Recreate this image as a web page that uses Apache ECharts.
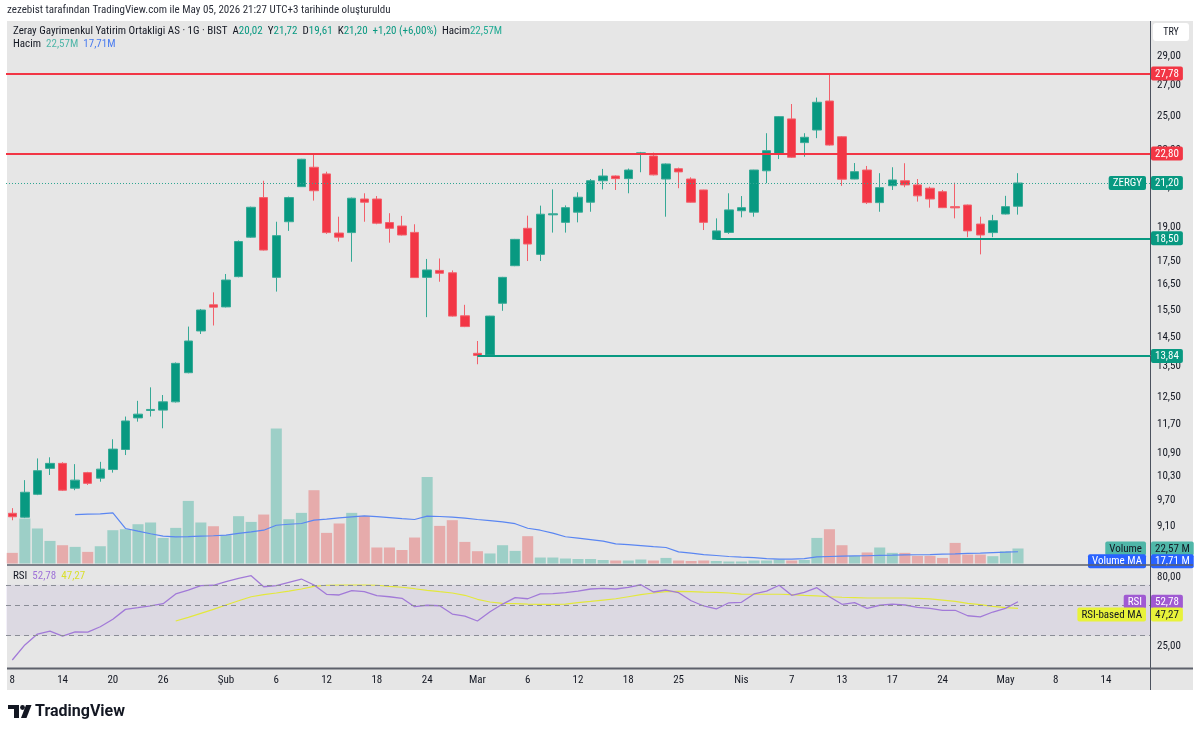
<!DOCTYPE html>
<html><head><meta charset="utf-8">
<script src="https://cdn.jsdelivr.net/npm/echarts@6/dist/echarts.min.js"></script>
<style>html,body{margin:0;padding:0;background:#fff;}#c{width:1200px;height:734px;}</style>
</head><body><div id="c"></div>
<script>
// ---------- DATA ----------
const dates = ['2026-01-08','2026-01-09','2026-01-12','2026-01-13','2026-01-14','2026-01-15','2026-01-16','2026-01-19','2026-01-20','2026-01-21','2026-01-22','2026-01-23','2026-01-26','2026-01-27','2026-01-28','2026-01-29','2026-01-30',
'2026-02-02','2026-02-03','2026-02-04','2026-02-05','2026-02-06','2026-02-09','2026-02-10','2026-02-11','2026-02-12','2026-02-13','2026-02-16','2026-02-17','2026-02-18','2026-02-19','2026-02-20','2026-02-23','2026-02-24','2026-02-25','2026-02-26','2026-02-27',
'2026-03-02','2026-03-03','2026-03-04','2026-03-05','2026-03-06','2026-03-09','2026-03-10','2026-03-11','2026-03-12','2026-03-13','2026-03-16','2026-03-17','2026-03-18','2026-03-19','2026-03-23','2026-03-24','2026-03-25','2026-03-26','2026-03-27','2026-03-30','2026-03-31',
'2026-04-01','2026-04-02','2026-04-03','2026-04-06','2026-04-07','2026-04-08','2026-04-09','2026-04-10','2026-04-13','2026-04-14','2026-04-15','2026-04-16','2026-04-17','2026-04-20','2026-04-21','2026-04-22','2026-04-24','2026-04-27','2026-04-28','2026-04-29','2026-04-30',
'2026-05-04','2026-05-05',
'2026-05-06','2026-05-07','2026-05-08','2026-05-11','2026-05-12','2026-05-13','2026-05-14','2026-05-15','2026-05-18','2026-05-19'];

const opens = [9.39,9.30,9.84,10.49,10.62,9.99,10.38,10.24,10.46,10.99,
11.88,12.10,12.11,12.36,13.28,14.72,15.70,15.62,16.83,18.55,
20.45,16.80,19.27,21.01,22.04,21.68,18.74,18.76,20.38,20.38,
19.23,19.07,18.77,16.80,17.09,16.99,15.28,13.93,13.87,15.76,
17.29,18.96,17.78,19.60,19.24,19.73,20.22,21.32,21.57,21.43,
22.78,22.66,21.41,21.96,21.41,20.84,18.45,18.77,19.80,19.73,
21.85,22.76,24.83,23.42,24.16,25.95,23.76,21.41,21.89,20.20,
21.06,21.32,21.10,20.93,20.75,20.00,20.08,19.16,18.76,19.64,
20.02];
const highs = [9.51,10.19,10.75,10.78,10.65,10.60,10.40,10.66,11.27,11.92,
12.39,12.81,12.57,13.62,14.88,15.54,16.19,16.94,18.40,20.00,
21.32,19.27,20.50,22.50,22.81,21.80,19.51,20.45,20.67,20.53,
19.68,19.55,19.15,17.58,17.60,17.09,15.70,14.36,15.28,16.82,
18.47,19.56,20.05,20.87,20.06,20.72,21.41,21.95,21.60,21.97,
22.89,22.85,22.25,22.02,21.50,20.85,19.43,20.67,20.53,21.90,
23.97,25.00,25.76,23.97,26.17,27.78,23.80,22.27,22.11,21.72,
22.04,22.26,21.41,21.01,20.84,21.22,20.10,19.51,19.60,20.54,
21.72];
const lows = [9.23,9.28,9.82,10.32,9.92,9.94,10.07,10.15,10.38,10.84,
11.77,11.92,11.58,12.34,13.26,14.61,14.92,15.60,16.80,18.52,
17.95,16.22,18.84,21.00,20.30,18.70,18.35,17.46,19.27,19.15,
18.30,18.63,16.78,15.23,16.62,15.25,14.86,13.56,13.84,15.47,
17.27,17.49,17.49,18.76,18.76,19.24,19.75,20.87,20.84,20.67,
21.77,21.60,19.51,20.93,20.20,18.88,18.43,18.70,19.48,19.51,
21.19,22.49,22.55,22.62,23.68,23.25,21.05,21.40,20.13,19.75,
20.84,20.98,20.25,19.95,19.93,19.43,18.55,17.78,18.55,19.62,
19.61];
const closes = [9.31,9.89,10.43,10.62,9.94,10.19,10.11,10.47,11.00,11.79,
11.99,12.13,12.36,13.59,14.36,15.50,15.61,16.69,18.35,19.97,
17.97,18.62,20.45,22.48,20.80,18.76,18.55,20.42,20.22,19.20,
18.96,18.65,16.79,17.11,16.97,15.27,14.88,13.86,15.27,16.80,
18.45,18.24,19.63,19.65,19.95,20.47,21.32,21.57,21.43,21.89,
22.84,21.63,22.22,21.79,20.22,19.24,18.84,19.84,19.95,21.89,
22.96,24.97,22.59,23.73,25.87,23.28,21.40,21.80,20.20,20.96,
21.36,21.10,20.54,20.38,19.95,19.94,18.84,18.65,19.32,20.00,
21.20];

// volume in millions
const volumes = [16.0,67.7,52.7,34.0,27.5,25.0,17.5,26.0,50.1,51.6,
59.1,61.7,38.5,53.6,94.2,61.7,56.1,42.6,71.2,62.6,
73.7,203.2,66.7,76.2,110.3,46.1,60.2,76.2,71.6,24.1,
24.1,20.3,39.1,130.3,56.6,65.2,32.5,18.5,15.1,27.5,
19.0,41.1,9.0,9.0,7.5,6.8,6.8,5.3,4.5,4.5,
6.0,4.5,8.4,4.5,3.8,4.5,3.8,3.0,3.0,4.5,
4.5,6.0,4.5,5.3,38.5,51.6,27.5,11.4,16.6,24.1,
16.0,16.0,11.4,11.4,8.4,31.0,13.5,13.5,11.0,18.5,
22.57];
const volumeMA = [null,null,null,null,null,73.7,74.2,74.7,76.2,52.7,
48.6,44.8,41.1,40.0,40.3,41.1,41.8,42.6,45.2,47.6,
50.1,57.6,59.1,60.2,65.2,66.7,68.6,70.1,71.6,70.4,
68.9,67.4,66.2,71.2,70.7,69.7,68.2,66.2,64.4,62.6,
59.9,53.1,50.1,45.6,40.3,38.1,35.8,33.6,29.5,28.3,
26.8,25.3,24.1,17.5,15.5,13.5,12.0,10.5,9.5,8.7,
7.2,6.5,6.5,7.2,9.9,10.5,11.0,11.4,11.7,12.2,
12.5,12.9,13.2,13.5,14.0,14.4,15.1,15.5,16.3,17.0,
17.71];
const rsi = [20.0,25.7,30.8,32.4,29.8,31.9,31.8,34.8,39.4,46.5,
47.8,49.2,51.1,60.1,64.2,69.0,69.5,73.7,78.0,81.5,
67.8,69.0,73.0,77.1,69.8,59.8,59.1,63.5,62.4,58.4,
57.4,55.9,48.6,49.8,49.4,43.0,41.6,38.3,44.7,50.8,
56.5,55.5,60.1,60.4,61.4,63.1,65.3,66.0,65.3,67.1,
70.1,62.1,64.2,61.4,53.7,49.2,46.8,51.9,52.3,60.1,
63.1,69.5,58.8,61.7,66.7,57.4,50.6,52.0,47.3,49.8,
50.8,50.0,48.1,47.3,45.8,45.8,41.8,41.1,44.5,47.3,
52.78];
const rsiMA = [null,null,null,null,null,null,null,null,null,null,null,null,null,
38.3,40.7,43.5,46.5,50.0,53.7,57.4,
59.4,61.1,63.1,65.3,68.3,69.5,69.8,69.8,69.8,69.5,
68.2,67.2,65.6,63.9,62.4,61.1,58.8,55.0,52.6,51.4,
51.1,50.8,50.6,50.6,50.8,52.0,53.1,54.3,55.5,57.4,
59.4,61.1,62.4,62.8,62.4,62.0,61.7,61.1,60.0,59.8,
59.8,59.8,59.4,58.8,58.3,57.4,56.9,56.6,56.2,56.2,
56.2,56.2,55.9,55.3,54.3,53.1,51.4,50.3,48.9,47.8,
47.27];

const xTickDates = ['2026-01-08','2026-01-14','2026-01-20','2026-01-26','2026-02-02','2026-02-06','2026-02-12','2026-02-18','2026-02-24','2026-03-02','2026-03-06','2026-03-12','2026-03-18','2026-03-25','2026-04-01','2026-04-07','2026-04-13','2026-04-17','2026-04-24','2026-05-04','2026-05-08','2026-05-14'];
const xTickTexts = ['8','14','20','26','Şub','6','12','18','24','Mar','6','12','18','25','Nis','7','13','17','24','May','8','14'];
const priceTicks = [29,27,25,23,21,19,17.5,16.5,15.5,14.5,13.5,12.5,11.7,10.9,10.3,9.7,9.1];
const rsiTicks = [80,25];
const rsiBands = [70,50,30];
const resistanceLevels = [27.78,22.80];
const supportLevels = [18.50,13.84];
const supportStarts = ['2026-03-30','2026-03-02'];
const lastPrice = 21.20;
const lastVolume = 22.57, lastVolumeMA = 17.71, lastRsi = 52.78, lastRsiMA = 47.27;

// ---------- STYLE ----------
const FONT = "'Liberation Sans Narrow','Arial Narrow','Roboto Condensed','DejaVu Sans Condensed',Roboto,sans-serif";
const UP = '#089981', DOWN = '#f23645', TXT = '#131722';
const CLEAR = 'rgba(0,0,0,0)';
const fmt = v => v.toFixed(2).replace('.', ',');

const candleData = opens.map((o, i) => [o, closes[i], lows[i], highs[i]]);
const volData = volumes.map((v, i) => ({value: v, itemStyle: {color: closes[i] >= opens[i] ? '#9dcfc7' : '#e6abab'}}));

function tick(v) {
  return {yAxis: v, lineStyle: {color: CLEAR, opacity: 1, width: 1}, label: {show: true, position: 'end', distance: 7, formatter: fmt(v), color: TXT, opacity: 1, fontSize: 11, fontFamily: FONT}};
}
function tag(v, text, bg, fg, pos, shift) {
  const f = shift ? '{s| }\n{t|' + text + '}' : '{t|' + text + '}';
  return {yAxis: v, lineStyle: {color: CLEAR, opacity: 1, width: 1}, label: {show: true, opacity: 1, position: pos, distance: pos === 'end' ? 1 : 4,
    formatter: f, rich: {t: {backgroundColor: bg, color: fg, padding: [2, 4, 1, 4], borderRadius: 2, fontSize: 11, fontFamily: FONT, lineHeight: 12},
      s: {fontSize: 2, lineHeight: shift ? shift * 2 : 1}}}};
}

function buildPriceMarks(rightX, toPixelY) {
  const m = [];
  priceTicks.forEach(v => m.push(tick(v)));
  resistanceLevels.forEach(v => m.push({yAxis: v, lineStyle: {color: DOWN, width: 2, type: 'solid', opacity: 1}, label: {show: false}}));
  supportLevels.forEach((v, i) => {
    const end = toPixelY ? {x: rightX, y: toPixelY(v)} : {coord: [dates[dates.length - 1], v]};
    m.push([{coord: [supportStarts[i], v], lineStyle: {color: UP, width: 2, type: 'solid', opacity: 1}, label: {show: false}}, end]);
  });
  m.push({yAxis: lastPrice, lineStyle: {color: '#2fa592', width: 1, type: [1, 2], opacity: 1}, label: {show: false}});
  resistanceLevels.forEach(v => m.push(tag(v, fmt(v), DOWN, '#fff', 'end')));
  supportLevels.forEach(v => m.push(tag(v, fmt(v), UP, '#fff', 'end')));
  m.push(tag(lastPrice, 'ZERGY', UP, '#fff', 'insideEnd'));
  m.push(tag(lastPrice, fmt(lastPrice), UP, '#fff', 'end'));
  return m;
}

const rsiMarks = [];
rsiBands.forEach(v => rsiMarks.push({yAxis: v, lineStyle: {color: '#8a8d96', width: 1, type: [5, 4], opacity: 1}, label: {show: false}}));
rsiTicks.forEach(v => rsiMarks.push(tick(v)));
rsiMarks.push(tag(lastRsi, 'RSI', '#a05ad2', '#fff', 'insideEnd'));
rsiMarks.push(tag(lastRsi, fmt(lastRsi), '#a05ad2', '#fff', 'end'));

const rsiMAMarks = [
  tag(lastRsiMA, 'RSI-based MA', '#e8f23a', TXT, 'insideEnd', 6),
  tag(lastRsiMA, fmt(lastRsiMA), '#e8f23a', TXT, 'end', 6)
];
const volMarks = [
  tag(lastVolume, 'Volume', '#4fb6a8', TXT, 'insideEnd'),
  tag(lastVolume, fmt(lastVolume) + ' M', '#4fb6a8', TXT, 'end')
];
const volMAMarks = [
  tag(lastVolumeMA, 'Volume MA', '#2962ff', '#fff', 'insideEnd', 9.5),
  tag(lastVolumeMA, fmt(lastVolumeMA) + ' M', '#2962ff', '#fff', 'end', 9.5)
];

const GL = 6, GW = 1144;
const chart = echarts.init(document.getElementById('c'), null, {renderer: 'canvas'});
chart.setOption({
  animation: false,
  backgroundColor: '#ffffff',
  grid: [
    {left: GL, width: GW, top: 21, height: 544},
    {left: GL, width: GW, top: 363.5, height: 200},
    {left: GL, width: GW, top: 566, height: 102}
  ],
  xAxis: [0, 1, 2].map(g => ({
    type: 'category', gridIndex: g, data: dates, boundaryGap: true,
    axisLine: {show: false}, axisTick: {show: false}, splitLine: {show: false},
    axisLabel: g === 2 ? {
      show: true, color: TXT, fontSize: 11, fontFamily: FONT, margin: 7,
      interval: (idx, val) => xTickDates.indexOf(val) >= 0,
      formatter: val => xTickTexts[xTickDates.indexOf(val)]
    } : {show: false}
  })),
  yAxis: [
    {type: 'log', logBase: 10, gridIndex: 0, min: 8.266, max: 31.61, position: 'right',
      axisLine: {show: false}, axisTick: {show: false}, axisLabel: {show: false}, splitLine: {show: false}},
    {type: 'value', gridIndex: 1, min: 0, max: 301, position: 'right',
      axisLine: {show: false}, axisTick: {show: false}, axisLabel: {show: false}, splitLine: {show: false}},
    {type: 'log', logBase: 10, gridIndex: 2, min: 17.5, max: 95.8, position: 'right',
      axisLine: {show: false}, axisTick: {show: false}, axisLabel: {show: false}, splitLine: {show: false}}
  ],
  series: [
    {type: 'bar', name: 'Volume', xAxisIndex: 1, yAxisIndex: 1, data: volData, barCategoryGap: '12%', z: 1,
      markLine: {symbol: ['none', 'none'], silent: true, animation: false, data: volMarks}},
    {type: 'line', name: 'Volume MA', xAxisIndex: 1, yAxisIndex: 1, data: volumeMA, symbol: 'none', z: 3,
      lineStyle: {color: '#5a86f2', width: 1.2},
      markLine: {symbol: ['none', 'none'], silent: true, animation: false, data: volMAMarks}},
    {id: 'price', type: 'candlestick', name: 'ZERGY', xAxisIndex: 0, yAxisIndex: 0, data: candleData, barWidth: 9, z: 4,
      itemStyle: {color: UP, color0: DOWN, borderColor: '#36a996', borderColor0: '#f2606b', borderWidth: 1},
      markLine: {symbol: ['none', 'none'], silent: true, animation: false, data: buildPriceMarks()}},
    {type: 'line', name: 'RSI', xAxisIndex: 2, yAxisIndex: 2, data: rsi, symbol: 'none', z: 4,
      lineStyle: {color: '#a27ad8', width: 1.3},
      markArea: {silent: true, itemStyle: {color: 'rgba(126,87,194,0.09)'}, data: [[{yAxis: 30}, {yAxis: 70}]]},
      markLine: {symbol: ['none', 'none'], silent: true, animation: false, data: rsiMarks}},
    {type: 'line', name: 'RSI-based MA', xAxisIndex: 2, yAxisIndex: 2, data: rsiMA, symbol: 'none', z: 3,
      lineStyle: {color: '#e3e83c', width: 1.2},
      markLine: {symbol: ['none', 'none'], silent: true, animation: false, data: rsiMAMarks}}
  ],
  graphic: [
    {type: 'rect', z: -10, shape: {x: 7, y: 21, width: 1186, height: 669}, style: {fill: '#e6e6e6'}},
    {type: 'line', z: 10, shape: {x1: 1150.5, y1: 21, x2: 1150.5, y2: 690}, style: {stroke: '#4c525e', lineWidth: 1}},
    {type: 'line', z: 10, shape: {x1: 7, y1: 565, x2: 1193, y2: 565}, style: {stroke: '#5d606b', lineWidth: 1.5}},
    {type: 'line', z: 10, shape: {x1: 7, y1: 668.5, x2: 1193, y2: 668.5}, style: {stroke: '#5d606b', lineWidth: 2}},
    {type: 'rect', z: 10, shape: {x: 1153, y: 23, width: 36, height: 18, r: 3}, style: {fill: '#ffffff'}},
    {type: 'text', z: 11, x: 1171, y: 32.5, style: {text: 'TRY', fill: TXT, fontSize: 10, fontFamily: FONT, align: 'center', verticalAlign: 'middle'}},
    {type: 'text', z: 11, x: 7, y: 10, style: {text: 'zezebist tarafından TradingView.com ile May 05, 2026 21:27 UTC+3 tarihinde oluşturuldu', fill: '#2a2e39', fontSize: 11, fontFamily: FONT, verticalAlign: 'middle'}},
    {type: 'text', z: 11, x: 13, y: 31, style: {
      text: '{n|Zeray Gayrimenkul Yatirim Ortakligi AS · 1G · BIST}  {n|A}{g|20,02}  {n|Y}{g|21,72}  {n|D}{g|19,61}  {n|K}{g|21,20}  {g|+1,20 (+6,00%)}  {n|Hacim}{v|22,57M}',
      verticalAlign: 'middle', fontSize: 11, fontFamily: FONT,
      rich: {n: {fill: TXT, fontSize: 11, fontFamily: FONT}, g: {fill: UP, fontSize: 11, fontFamily: FONT}, v: {fill: '#22ab94', fontSize: 11, fontFamily: FONT}}}},
    {type: 'text', z: 11, x: 13, y: 44, style: {
      text: '{n|Hacim}  {v|22,57M}  {b|17,71M}', verticalAlign: 'middle', fontSize: 11, fontFamily: FONT,
      rich: {n: {fill: TXT, fontSize: 11, fontFamily: FONT}, v: {fill: '#4fb6a8', fontSize: 11, fontFamily: FONT}, b: {fill: '#4a7cf0', fontSize: 11, fontFamily: FONT}}}},
    {type: 'text', z: 11, x: 13, y: 576, style: {
      text: '{n|RSI}  {p|52,78}  {y|47,27}', verticalAlign: 'middle', fontSize: 11, fontFamily: FONT,
      rich: {n: {fill: TXT, fontSize: 11, fontFamily: FONT}, p: {fill: '#9f72d8', fontSize: 11, fontFamily: FONT}, y: {fill: '#d9df2c', fontSize: 11, fontFamily: FONT}}}},
    // TradingView logo
    {type: 'rect', shape: {x: 8, y: 705, width: 11, height: 4}, style: {fill: TXT}},
    {type: 'rect', shape: {x: 14, y: 705, width: 5, height: 13}, style: {fill: TXT}},
    {type: 'circle', shape: {cx: 22.5, cy: 707.5, r: 2.4}, style: {fill: TXT}},
    {type: 'polygon', shape: {points: [[26, 705], [31.5, 705], [26.5, 718], [21, 718]]}, style: {fill: TXT}},
    {type: 'text', x: 35, y: 712, style: {text: 'TradingView', fill: TXT, fontSize: 16, fontWeight: 'bold', fontFamily: "Roboto, 'Liberation Sans', sans-serif", verticalAlign: 'middle'}}
  ]
});
// extend the support segments to the price scale edge, using the library's own y scale
const rightX = GL + GW;
chart.setOption({series: [{id: 'price', markLine: {data: buildPriceMarks(rightX, v => chart.convertToPixel({yAxisIndex: 0}, v))}}]});
</script>
</body></html>
